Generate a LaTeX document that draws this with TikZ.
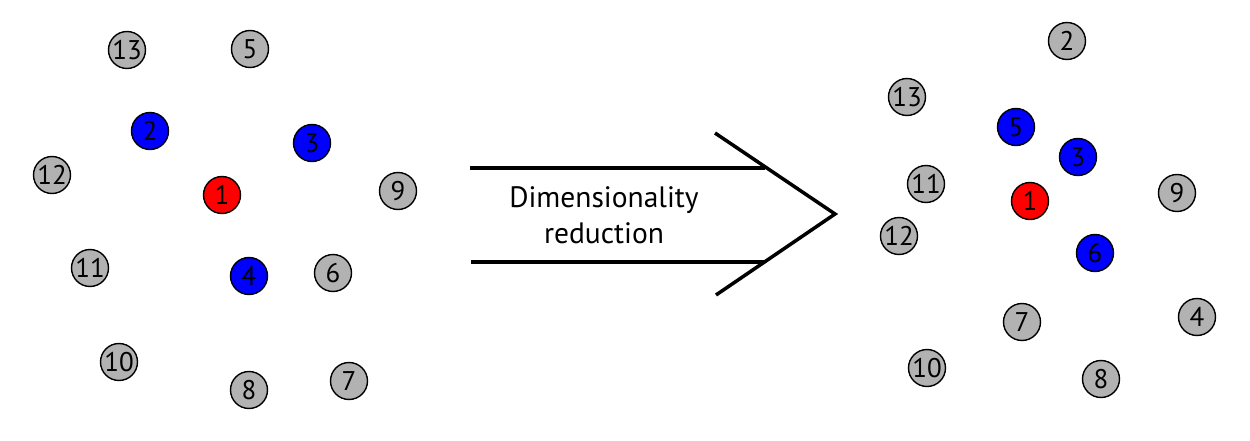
\documentclass[tikz,border=0pt]{standalone}
\usepackage{fontspec}
\setmainfont{PT Sans}
\begin{document}
\begin{tikzpicture}[x=1pt,y=-1pt,
  pt/.style={circle,draw=black,line width=1.4pt,minimum size=37pt,inner sep=0pt,font=\fontsize{27}{27}\selectfont},
  gr/.style={pt,fill=black!30},
  bl/.style={pt,fill=blue},
  rd/.style={pt,fill=red},
  arr/.style={line width=3.5pt}]
\useasboundingbox (0,0) rectangle (1250,441);
% left
\node[gr] (l13) at (127,50) {13};
\node[gr] (l5) at (250,49) {5};
\node[bl] (l2) at (150,131) {2};
\node[bl] (l3) at (312,143) {3};
\node[gr] (l12) at (52,175) {12};
\node[rd] (l1) at (222,195) {1};
\node[gr] (l9) at (398,191) {9};
\node[gr] (l11) at (90,268) {11};
\node[bl] (l4) at (249,276) {4};
\node[gr] (l6) at (333,273) {6};
\node[gr] (l10) at (119,362) {10};
\node[gr] (l8) at (249,390) {8};
\node[gr] (l7) at (349,381) {7};
% right
\node[gr] (r2) at (1067,41) {2};
\node[gr] (r13) at (907,97) {13};
\node[bl] (r5) at (1016,127) {5};
\node[bl] (r3) at (1078,157) {3};
\node[gr] (r11) at (926,184) {11};
\node[gr] (r9) at (1177,193) {9};
\node[rd] (r1) at (1030,201) {1};
\node[gr] (r12) at (899,236) {12};
\node[bl] (r6) at (1095,253) {6};
\node[gr] (r4) at (1197,317) {4};
\node[gr] (r7) at (1022,322) {7};
\node[gr] (r10) at (927,368) {10};
\node[gr] (r8) at (1101,379) {8};
% arrow
\coordinate (a1) at (470,168);
\coordinate (a2) at (765,168);
\coordinate (b1) at (471,262);
\coordinate (b2) at (765,262);
\coordinate (c1) at (715,133);
\coordinate (c2) at (835,214);
\coordinate (c3) at (716,295);
\draw[arr] (a1) -- (a2);
\draw[arr] (b1) -- (b2);
\draw[arr,line join=miter] (c1) -- (c2) -- (c3);
\node[font=\fontsize{29.5}{36}\selectfont,align=center] (lbl) at (604,215) {Dimensionality\\reduction};
\end{tikzpicture}
\end{document}
